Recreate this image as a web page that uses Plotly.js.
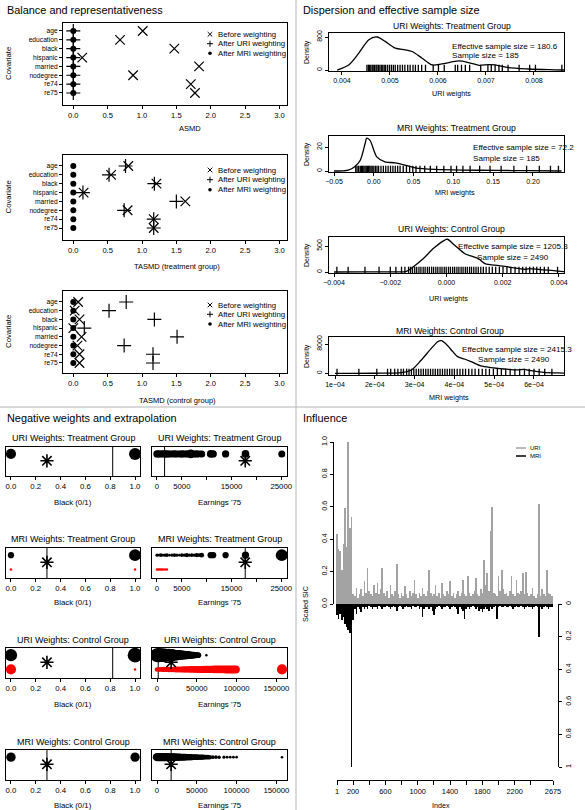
<!DOCTYPE html>
<html><head><meta charset="utf-8">
<script src="https://cdn.plot.ly/plotly-3.0.1.min.js"></script>
<style>html,body{margin:0;padding:0;background:#fff}#chart{width:585px;height:810px}</style>
</head><body><div id="chart"></div>
<script>
const W=585,H=810;
const FONT='Liberation Sans, Arial, Helvetica, sans-serif';

// ================= DATA =================
// --- Balance and representativeness ---
const covariates=["age","education","black","hispanic","married","nodegree","re74","re75"];
const asmdBefore=[1.01,0.68,1.47,0.13,1.83,0.87,1.71,1.77];
const asmdURI=[0,0,0,0,0,0,0,0];
const asmdMRI=[0,0,0,0,0,0,0,0];
const tasmdTreatBefore=[0.80,0.55,1.21,0.15,1.63,0.79,1.17,1.17];
const tasmdTreatURI=[0.76,0.52,1.18,0.14,1.50,0.74,1.17,1.17];
const tasmdTreatMRI=[0,0,0,0,0,0,0,0];
const tasmdCtrlBefore=[0.07,0.02,0.09,0.00,0.12,0.06,0.09,0.09];
const tasmdCtrlURI=[0.77,0.52,1.18,0.16,1.51,0.74,1.16,1.16];
const tasmdCtrlMRI=[0,0,0,0,0,0,0,0];
const legendLabels=["Before weighting","After URI weighting","After MRI weighting"];

// --- Dispersion and effective sample size ---
const uriTreatW=[0.00390,0.00414,0.00435,0.00456,0.00473,0.00490,0.00511,0.00532,0.00546,0.00567,0.00588,0.00608,0.00643,0.00664,0.00685,0.00706,0.00719,0.00747,0.00789,0.00831,0.00865];
const uriTreatDens=[0,122,408,735,800,694,530,490,449,286,122,147,220,180,114,130,122,57,25,8,0];
const uriTreatRug=[0.00452,0.00455,0.00457,0.00460,0.00463,0.00465,0.00468,0.00471,0.00473,0.00476,0.00479,0.00482,0.00485,0.00488,0.00491,0.00495,0.00499,0.00503,0.00507,0.00511,0.00516,0.00521,0.00526,0.00531,0.00537,0.00542,0.00548,0.00553,0.00559,0.00566,0.00574,0.00590,0.00601,0.00613,0.00636,0.00641,0.00649,0.00657,0.00666,0.00689,0.00704,0.00711,0.00719,0.00727,0.00734,0.00746,0.00769,0.00791,0.00803,0.00858];
const mriTreatW=[-0.050,-0.032,-0.024,-0.017,-0.011,-0.0089,-0.0047,0.0037,0.014,0.027,0.039,0.052,0.077,0.111,0.153,0.195,0.236];
const mriTreatDens=[0,0.8,3.6,9,22.7,27.4,25.5,11.8,7.7,6.8,4.9,2.7,1.4,0.8,0.5,0.3,0];
const mriTreatRug=[-0.0227,-0.021,-0.019,-0.017,-0.0155,-0.014,-0.0125,-0.011,-0.0095,-0.008,-0.0065,-0.005,-0.0035,-0.002,0.000,0.002,0.004,0.006,0.009,0.012,0.015,0.018,0.021,0.024,0.027,0.030,0.033,0.037,0.041,0.045,0.049,0.053,0.058,0.064,0.071,0.079,0.088,0.097,0.104,0.112,0.121,0.133,0.146,0.160,0.176,0.192,0.208,0.222,0.232];
const uriCtrlW=[-0.0040,-0.0030,-0.0020,-0.00143,-0.00119,-0.00082,-0.00046,-0.00009,0.00003,0.00028,0.00064,0.00089,0.00113,0.00137,0.00186,0.00235,0.00284,0.00296,0.00333,0.00382,0.00420];
const uriCtrlDens=[0,2,4,13,97,260,455,604,630,519,357,305,260,162,123,84,52,65,45,26,6];
const uriCtrlRug=[-0.0039,-0.0035,-0.0029,-0.0024,-0.0020,-0.0018,-0.0016,-0.00148,-0.00135,-0.00128,-0.00121,-0.00113,-0.00106,-0.00098,-0.00091,-0.00083,-0.00076,-0.00068,-0.00061,-0.00053,-0.00046,-0.00038,-0.00031,-0.00023,-0.00016,-0.00008,-0.00001,0.00007,0.00014,0.00022,0.00029,0.00037,0.00044,0.00052,0.00059,0.00067,0.00074,0.00082,0.00089,0.00097,0.00105,0.00113,0.00122,0.00131,0.00141,0.00152,0.00163,0.00175,0.00188,0.00201,0.00215,0.00229,0.00244,0.00258,0.00271,0.00283,0.00296,0.00309,0.00321,0.00334,0.00348,0.00362,0.00395];
const mriCtrlW=[1.0e-4,2.0e-4,2.67e-4,2.92e-4,3.17e-4,3.42e-4,3.58e-4,3.67e-4,3.79e-4,3.96e-4,4.08e-4,4.25e-4,4.42e-4,4.67e-4,4.92e-4,5.25e-4,5.58e-4,5.75e-4,5.92e-4,6.25e-4,6.58e-4,6.83e-4];
const mriCtrlDens=[0,20,180,910,3640,6820,8640,8920,8010,5915,4550,3910,3185,2000,1550,1180,910,1090,730,270,90,0];
const mriCtrlRug=[1.05e-4,1.6e-4,2.05e-4,2.32e-4,2.4e-4,2.5e-4,2.58e-4,2.66e-4,2.72e-4,2.8e-4,2.86e-4,2.92e-4,2.98e-4,3.04e-4,3.1e-4,3.16e-4,3.22e-4,3.28e-4,3.34e-4,3.4e-4,3.46e-4,3.52e-4,3.58e-4,3.64e-4,3.7e-4,3.76e-4,3.82e-4,3.88e-4,3.94e-4,4.0e-4,4.07e-4,4.14e-4,4.21e-4,4.28e-4,4.36e-4,4.44e-4,4.52e-4,4.61e-4,4.7e-4,4.79e-4,4.88e-4,4.98e-4,5.08e-4,5.18e-4,5.29e-4,5.4e-4,5.52e-4,5.64e-4,5.76e-4,5.88e-4,6.0e-4,6.13e-4,6.27e-4,6.45e-4];
const effSampleSize=[180.6,72.2,1205.3,2415.3];
const sampleSize=[185,185,2490,2490];

// --- Negative weights and extrapolation ---
const targetBlack=0.29, targetRe75=17750;
const uriWeightedBlack=0.82, uriWeightedRe75=1532;
const uriTreatBlackX=[0,1], uriTreatBlackW=[0.0072,0.0086];
const uriTreatRe75X=[0,250,500,800,1100,1400,1700,2000,2300,2700,3100,3500,3900,4300,4700,5100,5500,5900,6300,6800,7200,7600,8000,8500,9000,10800,11300,13800,17800,25100];
const uriTreatRe75W=[0.0052,0.0049,0.0050,0.0048,0.0051,0.0049,0.0050,0.0052,0.0048,0.0050,0.0049,0.0051,0.0050,0.0048,0.0050,0.0052,0.0049,0.0050,0.0051,0.0062,0.0049,0.0050,0.0052,0.0048,0.0050,0.0054,0.0053,0.0052,0.0055,0.0050];
const mriTreatBlackPosX=[0,1], mriTreatBlackPosW=[0.12,0.23];
const mriTreatBlackNegX=[0,1], mriTreatBlackNegW=[-0.020,-0.025];
const mriTreatRe75PosX=[0,400,800,1200,1600,2000,2500,3000,3500,4000,4500,5000,5500,6000,6500,7000,7500,8000,8500,9000,10800,11300,13800,17800,25100];
const mriTreatRe75PosW=[0.06,0.05,0.07,0.05,0.06,0.07,0.05,0.06,0.07,0.06,0.05,0.07,0.06,0.08,0.06,0.07,0.06,0.08,0.07,0.09,0.12,0.12,0.12,0.14,0.23];
const mriTreatRe75NegX=[0,300,600,900,1200,1600,2000];
const mriTreatRe75NegW=[-0.020,-0.020,-0.015,-0.020,-0.010,-0.010,-0.010];
const uriCtrlBlackPosX=[0,1], uriCtrlBlackPosW=[0.0035,0.0042];
const uriCtrlBlackNegX=[0,1], uriCtrlBlackNegW=[-0.0029,-0.0003];
const uriCtrlRe75PosX=[0,1500,3000,4500,6000,7500,9000,10500,12000,13500,15000,16500,18000,19500,21000,22500,24000,25500,27000,28500,30000,32000,34000,36000,38000,40000,42000,44000,46000,48000,50000,52000,62000];
const uriCtrlRe75PosW=[0.0040,0.0039,0.0040,0.0038,0.0039,0.0037,0.0038,0.0036,0.0037,0.0035,0.0036,0.0034,0.0035,0.0033,0.0032,0.0031,0.0030,0.0029,0.0029,0.0028,0.0027,0.0026,0.0025,0.0024,0.0023,0.0022,0.0021,0.0020,0.0019,0.0018,0.0017,0.0016,0.0004];
const uriCtrlRe75NegX=[0,3000,6000,9000,12000,15000,18000,21000,24000,27000,30000,33000,36000,39000,42000,45000,48000,51000,54000,57000,60000,63000,66000,69000,72000,75000,78000,81000,84000,87000,90000,93000,96000,99000,157000];
const uriCtrlRe75NegW=[-0.0013,-0.0014,-0.0014,-0.0015,-0.0015,-0.0016,-0.0016,-0.0016,-0.0017,-0.0017,-0.0017,-0.0018,-0.0018,-0.0018,-0.0019,-0.0019,-0.0019,-0.0020,-0.0020,-0.0020,-0.0021,-0.0021,-0.0021,-0.0021,-0.0022,-0.0022,-0.0022,-0.0022,-0.0022,-0.0023,-0.0023,-0.0023,-0.0023,-0.0023,-0.0029];
const mriCtrlBlackX=[0,1], mriCtrlBlackW=[0.00067,0.00066];
const mriCtrlRe75X=[0,2000,4000,6000,8000,10000,12000,14000,16000,18000,20000,22000,24000,26000,28000,30000,32000,34000,36000,38000,40000,42000,44000,46000,48000,50000,52000,54000,56000,58000,60000,62000,64000,66000,70000,74000,78000,84000,88000,92000,96000,100000,157000];
const mriCtrlRe75W=[0.00060,0.00059,0.00060,0.00058,0.00059,0.00057,0.00058,0.00056,0.00057,0.00055,0.00056,0.00054,0.00053,0.00052,0.00051,0.00050,0.00049,0.00048,0.00047,0.00046,0.00045,0.00044,0.00043,0.00042,0.00041,0.00040,0.00039,0.00038,0.00037,0.00036,0.00035,0.00034,0.00033,0.00032,0.00027,0.00026,0.00025,0.00022,0.00021,0.00020,0.00020,0.00019,0.00015];

// --- Influence (scaled SIC, every 20th unit) ---
const uriSIC=[0.43,0.34,0.33,0.21,0.37,0.59,0.35,1.00,0.47,0.54,0.06,0.05,0.10,0.04,0.06,0.09,0.05,0.14,0.07,0.22,0.08,0.06,0.05,0.12,0.07,0.13,0.06,0.09,0.22,0.07,0.05,0.08,0.04,0.12,0.06,0.05,0.08,0.25,0.06,0.04,0.07,0.05,0.11,0.06,0.04,0.08,0.05,0.07,0.15,0.06,0.04,0.07,0.05,0.10,0.06,0.05,0.08,0.21,0.07,0.05,0.06,0.12,0.05,0.07,0.04,0.13,0.06,0.05,0.08,0.06,0.14,0.05,0.07,0.04,0.06,0.08,0.05,0.07,0.15,0.06,0.05,0.17,0.07,0.05,0.06,0.08,0.16,0.06,0.05,0.09,0.07,0.27,0.12,0.19,0.08,0.45,0.60,0.07,0.06,0.05,0.17,0.08,0.21,0.09,0.06,0.07,0.05,0.08,0.17,0.06,0.05,0.15,0.07,0.06,0.08,0.19,0.06,0.20,0.07,0.05,0.06,0.10,0.05,0.04,0.06,0.62,0.05,0.09,0.06,0.05,0.21,0.07,0.06,0.05];
const mriSIC=[0.07,0.09,0.06,0.10,0.08,0.12,0.14,0.16,0.18,1.00,0.10,0.03,0.06,0.02,0.03,0.05,0.02,0.03,0.02,0.03,0.01,0.02,0.03,0.02,0.02,0.03,0.01,0.02,0.03,0.02,0.02,0.01,0.02,0.03,0.02,0.01,0.02,0.04,0.02,0.01,0.02,0.03,0.02,0.01,0.02,0.02,0.03,0.01,0.02,0.02,0.01,0.03,0.02,0.08,0.03,0.02,0.02,0.03,0.02,0.04,0.07,0.03,0.02,0.01,0.02,0.03,0.02,0.02,0.01,0.02,0.03,0.02,0.01,0.02,0.03,0.06,0.02,0.03,0.04,0.09,0.03,0.02,0.03,0.02,0.01,0.02,0.03,0.02,0.04,0.03,0.05,0.03,0.02,0.03,0.04,0.02,0.03,0.02,0.01,0.09,0.02,0.01,0.02,0.02,0.01,0.02,0.02,0.01,0.02,0.03,0.02,0.01,0.02,0.02,0.01,0.02,0.03,0.02,0.01,0.02,0.02,0.03,0.02,0.01,0.02,0.20,0.02,0.03,0.02,0.01,0.02,0.03,0.02,0.02];
const indexTickVals=[1,200,400,600,800,1000,1200,1400,1600,1800,2000,2200,2400,2675];
const indexTickText=["1","200","","600","","1000","","1400","","1800","","2200","","2675"];

// ================= HELPERS =================
const layout={width:W,height:H,margin:{l:0,r:0,t:0,b:0},showlegend:false,paper_bgcolor:'#fff',plot_bgcolor:'rgba(0,0,0,0)',
  font:{family:FONT,color:'#000'},annotations:[],shapes:[],bargap:0};
const data=[];
let axN=0;
const px=x=>x/W, py=y=>1-y/H;
function tf(s){return {size:s,family:FONT,color:'#000'};}
function newAxes(box,xo,yo){
  axN++;
  const s=axN===1?'':String(axN);
  const base={showgrid:false,zeroline:false,showline:true,mirror:true,linecolor:'#000',linewidth:1,ticks:'outside',ticklen:3,tickwidth:1,tickcolor:'#000',fixedrange:true,tickfont:tf(7)};
  layout['xaxis'+s]=Object.assign({},base,{domain:[px(box[0]),px(box[1])],anchor:'y'+s},xo);
  layout['yaxis'+s]=Object.assign({},base,{domain:[py(box[3]),py(box[2])],anchor:'x'+s},yo);
  return {xaxis:'x'+s,yaxis:'y'+s};
}
function note(text,x,y,size,opt){
  layout.annotations.push(Object.assign({text:text,x:px(x),y:py(y),xref:'paper',yref:'paper',showarrow:false,
    font:tf(size),xanchor:'center',yanchor:'middle',borderpad:0},opt||{}));
}
function seg(x0,y0,x1,y1,color,width){
  layout.shapes.push({type:'line',xref:'paper',yref:'paper',x0:px(x0),y0:py(y0),x1:px(x1),y1:py(y1),line:{color:color||'#000',width:width||1}});
}
function dot(x,y,r){
  layout.shapes.push({type:'circle',xref:'paper',yref:'paper',x0:px(x-r),x1:px(x+r),y0:py(y+r),y1:py(y-r),fillcolor:'#000',line:{width:0}});
}

// ================= SECTION TITLES / DIVIDERS =================
seg(296,0,296,H,'#b4b4b4',1);
seg(0,407,W,407,'#b4b4b4',1);
note("Balance and representativeness",6,10,10.9,{xanchor:'left'});
note("Dispersion and effective sample size",302,10,10.9,{xanchor:'left'});
note("Negative weights and extrapolation",6,418,10.9,{xanchor:'left'});
note("Influence",302,418,10.9,{xanchor:'left'});

// ================= BALANCE PANELS =================
function balancePanel(box,yr,before,uri,mri,xlab,xlabX,xlabY,legY){
  const yv=covariates.map((_,i)=>8-i);
  const a=newAxes(box,{range:[-0.15,3.11],tickvals:[0,0.5,1,1.5,2,2.5,3],tickformat:'.1f',tickfont:tf(7.6)},
    {range:yr,tickvals:yv,ticktext:covariates,tickfont:tf(6.7)});
  data.push({type:'scatter',mode:'markers',x:before,y:yv,xaxis:a.xaxis,yaxis:a.yaxis,hoverinfo:'skip',
    marker:{symbol:'x-thin-open',size:9.5,color:'#000',opacity:1,line:{width:1.2,color:'#000'}}});
  data.push({type:'scatter',mode:'markers',x:uri,y:yv,xaxis:a.xaxis,yaxis:a.yaxis,hoverinfo:'skip',
    marker:{symbol:'cross-thin-open',size:10,color:'#000',opacity:1,line:{width:1.2,color:'#000'}}});
  data.push({type:'scatter',mode:'markers',x:mri,y:yv,xaxis:a.xaxis,yaxis:a.yaxis,hoverinfo:'skip',
    marker:{symbol:'circle',size:6,color:'#000',opacity:1}});
  note(xlab,xlabX,xlabY,7.5);
  note("Covariate",8,(box[2]+box[3])/2,7.8,{textangle:-90});
  const kx=210;
  seg(kx-2.3,legY[0]-2.3,kx+2.3,legY[0]+2.3); seg(kx-2.3,legY[0]+2.3,kx+2.3,legY[0]-2.3);
  seg(kx-3,legY[1],kx+3,legY[1]); seg(kx,legY[1]-3,kx,legY[1]+3);
  dot(kx,legY[2],1.8);
  legendLabels.forEach((t,i)=>note(t,217,legY[i],7.8,{xanchor:'left'}));
}
balancePanel([63,287,23,105],[-0.355,8.9],asmdBefore,asmdURI,asmdMRI,"ASMD",190,129,[34.3,43.7,53.3]);
balancePanel([63,287,155,240],[-0.355,9.24],tasmdTreatBefore,tasmdTreatURI,tasmdTreatMRI,"TASMD (treatment group)",177,266,[170,179.7,189.7]);
balancePanel([63,287,291,373],[-0.15,9.26],tasmdCtrlBefore,tasmdCtrlURI,tasmdCtrlMRI,"TASMD (control group)",177,400,[305,314.3,324]);

// ================= DENSITY PANELS =================
function densityPanel(box,xr,yr,xtv,xtt,ytv,wx,dens,rug,title,titleX,titleY,xlab,xlabX,xlabY,ess,n,essPos){
  const a=newAxes(box,{range:xr,tickvals:xtv,ticktext:xtt,tickfont:tf(7)},
    {range:yr,tickvals:ytv,ticktext:ytv.map(String),tickangle:-90,tickfont:tf(7)});
  data.push({type:'scatter',mode:'lines',x:wx,y:dens,xaxis:a.xaxis,yaxis:a.yaxis,hoverinfo:'skip',
    line:{color:'#000',width:1.3,shape:'spline',smoothing:0.8}});
  const rugY=yr[0]+(2.8/(box[3]-box[2]))*(yr[1]-yr[0]);
  data.push({type:'scatter',mode:'markers',x:rug,y:rug.map(()=>rugY),xaxis:a.xaxis,yaxis:a.yaxis,hoverinfo:'skip',
    marker:{symbol:'line-ns-open',size:5,color:'#000',opacity:1,line:{width:1.3,color:'#000'}}});
  note(title,titleX,titleY,8.6);
  note(xlab,xlabX,xlabY,7.2);
  note("Density",307,(box[2]+box[3])/2,7,{textangle:-90});
  note("Effective sample size = "+ess,essPos[0],essPos[1],8.1,{xanchor:essPos[4]});
  note("Sample size = "+n,essPos[2],essPos[3],8.1,{xanchor:essPos[4]});
}
densityPanel([329,564,33,71],[0.00373,0.008625],[-24,897],[0.004,0.005,0.006,0.007,0.008],["0.004","0.005","0.006","0.007","0.008"],[0,800],
  uriTreatW,uriTreatDens,uriTreatRug,"URI Weights: Treatment Group",452,26,"URI weights",451,93,effSampleSize[0],sampleSize[0],[451,47,451,56,'left']);
densityPanel([329,564,136,172],[-0.0563,0.239],[-0.83,29.2],[-0.05,0,0.05,0.10,0.15,0.20],["\u22120.05","0.00","0.05","0.10","0.15","0.20"],[0,20],
  mriTreatW,mriTreatDens,mriTreatRug,"MRI Weights: Treatment Group",456,128,"MRI weights",455,192,effSampleSize[1],sampleSize[1],[472,147,472,158,'left']);
densityPanel([329,564,237,273],[-0.00418,0.00418],[-19,673],[-0.004,-0.002,0,0.002,0.004],["\u22120.004","\u22120.002","0.000","0.002","0.004"],[0,500],
  uriCtrlW,uriCtrlDens,uriCtrlRug,"URI Weights: Control Group",451,229,"URI weights",448,298,effSampleSize[2],sampleSize[2],[513,247,513,257,'center']);
densityPanel([329,564,337,375],[0.849e-4,6.754e-4],[-464,9925],[1e-4,2e-4,3e-4,4e-4,5e-4,6e-4],["1e\u221204","2e\u221204","3e\u221204","4e\u221204","5e\u221204","6e\u221204"],[0,8000],
  mriCtrlW,mriCtrlDens,mriCtrlRug,"MRI Weights: Control Group",450,331,"MRI weights",449,397,effSampleSize[3],sampleSize[3],[517,349,514,359,'center']);

// ================= EXTRAPOLATION PANELS =================
const sizeScale={uriT:1400,mriT:52,uriC:3500,mriC:14000};
function msize(ws,k){return ws.map(w=>Math.max(2.5,Math.abs(w)*k));}
function bubblePanel(box,isBlack,ctrl,posX,posW,negX,negW,k,vline,title,titleY,xlabY){
  const xo=isBlack?{range:[-0.04,1.04],tickvals:[0,0.2,0.4,0.6,0.8,1.0],tickformat:'.1f',tickfont:tf(7.8)}
    :(ctrl?{range:[-6280,163280],tickvals:[0,50000,100000,150000],ticktext:["0","50000","100000","150000"],tickfont:tf(7.8)}
          :{range:[-1000,26150],tickvals:[0,5000,10000,15000,20000,25000],ticktext:["0","5000","","15000","","25000"],tickfont:tf(7.8)});
  const yr=[-0.6,1.5];
  const a=newAxes(box,xo,{range:yr,showticklabels:false,ticks:''});
  data.push({type:'scatter',mode:'lines',x:[vline,vline],y:yr,xaxis:a.xaxis,yaxis:a.yaxis,hoverinfo:'skip',line:{color:'#000',width:1}});
  data.push({type:'scatter',mode:'markers',x:posX,y:posX.map(()=>1),xaxis:a.xaxis,yaxis:a.yaxis,hoverinfo:'skip',
    marker:{symbol:'circle',color:'#000',opacity:1,size:msize(posW,k),line:{width:0}}});
  if(negX.length) data.push({type:'scatter',mode:'markers',x:negX,y:negX.map(()=>0),xaxis:a.xaxis,yaxis:a.yaxis,hoverinfo:'skip',
    marker:{symbol:'circle',color:'#ff0000',opacity:1,size:msize(negW,k),line:{width:0}}});
  data.push({type:'scatter',mode:'markers',x:[isBlack?targetBlack:targetRe75],y:[0.5],xaxis:a.xaxis,yaxis:a.yaxis,hoverinfo:'skip',cliponaxis:false,
    marker:{symbol:'asterisk-open',size:11,color:'#000',opacity:1,line:{width:1.6,color:'#000'}}});
  note(title,(box[0]+box[1])/2,titleY,9);
  note(isBlack?"Black (0/1)":"Earnings '75",(box[0]+box[1])/2,xlabY,7.8);
}
const L=[6,140],R=[152,287];
bubblePanel([L[0],L[1],447,476],true,false,uriTreatBlackX,uriTreatBlackW,[],[],sizeScale.uriT,uriWeightedBlack,"URI Weights: Treatment Group",438,502);
bubblePanel([R[0],R[1],447,476],false,false,uriTreatRe75X,uriTreatRe75W,[],[],sizeScale.uriT,uriWeightedRe75,"URI Weights: Treatment Group",438,502);
bubblePanel([L[0],L[1],548,578],true,false,mriTreatBlackPosX,mriTreatBlackPosW,mriTreatBlackNegX,mriTreatBlackNegW,sizeScale.mriT,targetBlack,"MRI Weights: Treatment Group",539,602);
bubblePanel([R[0],R[1],548,578],false,false,mriTreatRe75PosX,mriTreatRe75PosW,mriTreatRe75NegX,mriTreatRe75NegW,sizeScale.mriT,targetRe75,"MRI Weights: Treatment Group",539,602);
bubblePanel([L[0],L[1],648,678],true,true,uriCtrlBlackPosX,uriCtrlBlackPosW,uriCtrlBlackNegX,uriCtrlBlackNegW,sizeScale.uriC,uriWeightedBlack,"URI Weights: Control Group",640,704);
bubblePanel([R[0],R[1],648,678],false,true,uriCtrlRe75PosX,uriCtrlRe75PosW,uriCtrlRe75NegX,uriCtrlRe75NegW,sizeScale.uriC,uriWeightedRe75,"URI Weights: Control Group",640,704);
bubblePanel([L[0],L[1],750,780],true,true,mriCtrlBlackX,mriCtrlBlackW,[],[],sizeScale.mriC,targetBlack,"MRI Weights: Control Group",742,805);
bubblePanel([R[0],R[1],750,780],false,true,mriCtrlRe75X,mriCtrlRe75W,[],[],sizeScale.mriC,targetRe75,"MRI Weights: Control Group",742,805);

// ================= INFLUENCE =================
const sicIndex=uriSIC.map((_,i)=>1+20*i);
const infTop=newAxes([334,558,442,604],{visible:false,range:[-36,2737]},
  {range:[0,1],mirror:false,tickvals:[0,0.2,0.4,0.6,0.8,1.0],tickformat:'.1f',tickangle:-90,tickfont:tf(7.2)});
data.push({type:'bar',x:sicIndex,y:uriSIC,xaxis:infTop.xaxis,yaxis:infTop.yaxis,width:20,hoverinfo:'skip',marker:{color:'#a3a3a3',line:{width:0}}});
const infBot=newAxes([334,558,604,767],{visible:false,range:[-36,2737]},
  {range:[1,0],side:'right',mirror:false,tickvals:[0,0.2,0.4,0.6,0.8,1.0],ticktext:["0","0.2","0.4","0.6","0.8","1"],tickangle:-90,tickfont:tf(7.2)});
data.push({type:'bar',x:sicIndex,y:mriSIC,xaxis:infBot.xaxis,yaxis:infBot.yaxis,width:20,hoverinfo:'skip',marker:{color:'#000',line:{width:0}}});
axN++;
layout['xaxis'+axN]={domain:[px(337),px(553)],range:[1,2675],anchor:'free',position:py(780),showgrid:false,zeroline:false,showline:true,linecolor:'#000',
  ticks:'outside',ticklen:4,tickcolor:'#000',tickvals:indexTickVals,ticktext:indexTickText,tickfont:tf(7.4),fixedrange:true};
data.push({type:'scatter',mode:'markers',x:[1],y:[0.5],xaxis:'x'+axN,yaxis:infBot.yaxis,marker:{opacity:0},hoverinfo:'skip'});
note("Index",441,805,7.2);
note("Scaled SIC",305,604,7.2,{textangle:-90});
seg(516,448,526,448,'#a3a3a3',1.5); note("URI",529,448,6,{xanchor:'left'});
seg(516,456,526,456,'#000',1.5); note("MRI",529,456,6,{xanchor:'left'});

Plotly.newPlot('chart',data,layout,{staticPlot:true,displayModeBar:false});
</script>
</body></html>
